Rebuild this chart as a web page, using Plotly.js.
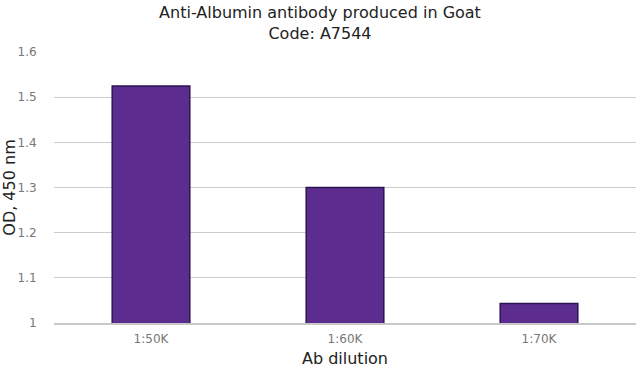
<!DOCTYPE html>
<html><head><meta charset="utf-8">
<script src="https://cdn.plot.ly/plotly-3.0.1.min.js"></script>
<style>html,body{margin:0;padding:0;background:#fff}#chart{width:640px;height:369px}</style>
</head><body><div id="chart"></div>
<script>
var categories = ["1:50K", "1:60K", "1:70K"];
var odValues = [1.525, 1.300, 1.043];
var yTicks = [1, 1.1, 1.2, 1.3, 1.4, 1.5, 1.6];

var trace = {
  type: 'bar', x: categories, y: odValues, base: 0,
  marker: {color: '#5c2d8f', line: {color: '#2a1552', width: 1.5}},
  hoverinfo: 'x+y'
};
var layout = {
  width: 640, height: 369,
  margin: {l: 54, r: 4, t: 52, b: 46},
  paper_bgcolor: '#fff', plot_bgcolor: '#fff',
  font: {family: 'DejaVu Sans, Verdana, sans-serif'},
  title: {text: 'Anti-Albumin antibody produced in Goat<br>Code: A7544', font: {size: 16, color: '#222'}, x: 0.5, xanchor: 'center', yref: 'container', y: 0.95, yanchor: 'middle'},
  bargap: 0.6,
  showlegend: false,
  xaxis: {
    type: 'category', tickfont: {size: 12, color: '#777'}, ticks: 'outside', ticklen: 4, tickcolor: '#ffffff', showgrid: false,
    showline: true, linecolor: '#c8c8c8', linewidth: 1.5,
    title: {text: 'Ab dilution', font: {size: 16, color: '#222'}, standoff: 8}
  },
  yaxis: {
    range: [1, 1.6], tickvals: yTicks, ticktext: yTicks.map(String),
    tickfont: {size: 12, color: '#777'}, gridcolor: '#cccccc', gridwidth: 1,
    zeroline: false, showline: false, ticks: 'outside', ticklen: 14, tickcolor: '#ffffff',
    title: {text: 'OD, 450 nm', font: {size: 16, color: '#222'}, standoff: 4}
  }
};
Plotly.newPlot('chart', [trace], layout, {displayModeBar: false, staticPlot: true});
</script></body></html>
